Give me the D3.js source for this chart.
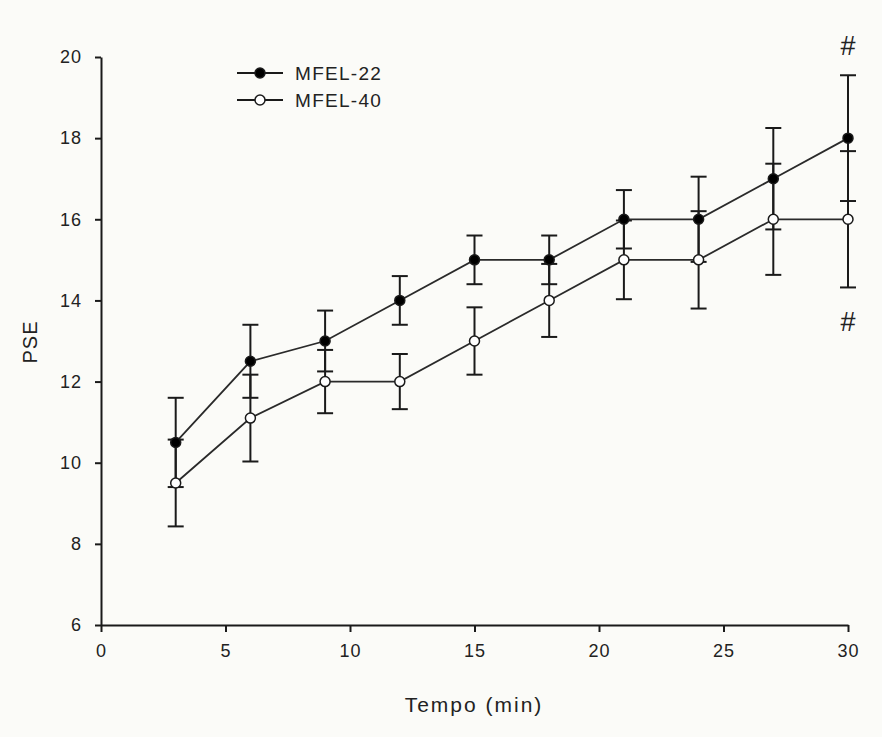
<!DOCTYPE html>
<html>
<head>
<meta charset="utf-8">
<script src="https://cdn.jsdelivr.net/npm/d3@7"></script>
<style>
  html, body { margin: 0; padding: 0; background: #fbfbf8; }
  svg { display: block; }
  text { font-family: "Liberation Sans", Arial, sans-serif; fill: #222; }
</style>
</head>
<body>
<svg id="chart" width="882" height="737"></svg>
<script>
const times = [3, 6, 9, 12, 15, 18, 21, 24, 27, 30];
const mfel22 = [10.5, 12.5, 13.0, 14.0, 15.0, 15.0, 16.0, 16.0, 17.0, 18.0];
const mfel22Err = [1.1, 0.9, 0.75, 0.6, 0.6, 0.6, 0.72, 1.05, 1.25, 1.55];
const mfel40 = [9.5, 11.1, 12.0, 12.0, 13.0, 14.0, 15.0, 15.0, 16.0, 16.0];
const mfel40Err = [1.07, 1.07, 0.78, 0.68, 0.83, 0.9, 0.97, 1.2, 1.37, 1.68];
const xTicks = [0, 5, 10, 15, 20, 25, 30];
const yTicks = [6, 8, 10, 12, 14, 16, 18, 20];
const seriesNames = ["MFEL-22", "MFEL-40"];
const sigMarks = [{ t: 30, label: "#", pos: "above" }, { t: 30, label: "#", pos: "below" }];

const svg = d3.select("#chart");
const x = d3.scaleLinear().domain([0, 30]).range([101, 848]);
const y = d3.scaleLinear().domain([6, 20]).range([625, 57]);
const ink = "#1a1a1a";

// axes
const xAxis = svg.append("g").attr("transform", "translate(0,625)")
  .call(d3.axisBottom(x).tickValues(xTicks).tickSize(7).tickPadding(12).tickSizeOuter(0));
const yAxis = svg.append("g").attr("transform", "translate(101,0)")
  .call(d3.axisLeft(y).tickValues(yTicks).tickSize(6).tickPadding(13).tickSizeOuter(0));
[xAxis, yAxis].forEach(a => {
  a.selectAll("path.domain").attr("stroke", ink).attr("stroke-width", 2);
  a.selectAll(".tick line").attr("stroke", ink).attr("stroke-width", 2);
  a.selectAll(".tick text").style("font-size", "18px").attr("fill", "#222")
    .style("letter-spacing", "1px")
    .style("font-family", "'Liberation Sans', Arial, sans-serif");
});

svg.append("text").attr("x", 474).attr("y", 712).attr("text-anchor", "middle")
  .style("font-size", "21px").style("letter-spacing", "2px").text("Tempo (min)");
svg.append("text").attr("transform", "translate(37,342) rotate(-90)")
  .attr("text-anchor", "middle").style("font-size", "20px").style("letter-spacing", "1px").text("PSE");

const series = [
  { name: seriesNames[0], vals: mfel22, err: mfel22Err, fill: "#000" },
  { name: seriesNames[1], vals: mfel40, err: mfel40Err, fill: "#fff" }
];

const line = d3.line().x(d => x(d[0])).y(d => y(d[1]));
const capW = 8;

// error bars
series.forEach(s => {
  const g = svg.append("g").attr("stroke", ink).attr("stroke-width", 2);
  times.forEach((t, i) => {
    const hi = s.vals[i] + s.err[i], lo = s.vals[i] - s.err[i];
    g.append("line").attr("x1", x(t)).attr("x2", x(t)).attr("y1", y(hi)).attr("y2", y(lo));
    g.append("line").attr("x1", x(t) - capW).attr("x2", x(t) + capW).attr("y1", y(hi)).attr("y2", y(hi));
    g.append("line").attr("x1", x(t) - capW).attr("x2", x(t) + capW).attr("y1", y(lo)).attr("y2", y(lo));
  });
});

series.forEach(s => {
  svg.append("path").datum(times.map((t, i) => [t, s.vals[i]]))
    .attr("d", line).attr("fill", "none").attr("stroke", "#2a2a2a").attr("stroke-width", 1.8);
});
series.forEach(s => {
  svg.append("g").selectAll("circle").data(times.map((t, i) => [t, s.vals[i]])).join("circle")
    .attr("cx", d => x(d[0])).attr("cy", d => y(d[1])).attr("r", 5)
    .attr("fill", s.fill).attr("stroke", ink).attr("stroke-width", 1.5);
});

// legend
series.forEach((s, i) => {
  const ly = 73 + i * 27;
  svg.append("line").attr("x1", 237).attr("x2", 283).attr("y1", ly).attr("y2", ly)
    .attr("stroke", ink).attr("stroke-width", 1.8);
  svg.append("circle").attr("cx", 260).attr("cy", ly).attr("r", 5)
    .attr("fill", s.fill).attr("stroke", ink).attr("stroke-width", 1.5);
  svg.append("text").attr("x", 295).attr("y", ly + 7).style("font-size", "19px")
    .style("letter-spacing", "1.3px").text(s.name);
});

// significance marks
sigMarks.forEach(m => {
  const i = times.indexOf(m.t);
  const ty = m.pos === "above" ? y(mfel22[i] + mfel22Err[i]) - 20
                               : y(mfel40[i] - mfel40Err[i]) + 44;
  svg.append("text").attr("x", x(m.t)).attr("y", ty).attr("text-anchor", "middle")
    .style("font-size", "27px").text(m.label);
});
</script>
</body>
</html>
